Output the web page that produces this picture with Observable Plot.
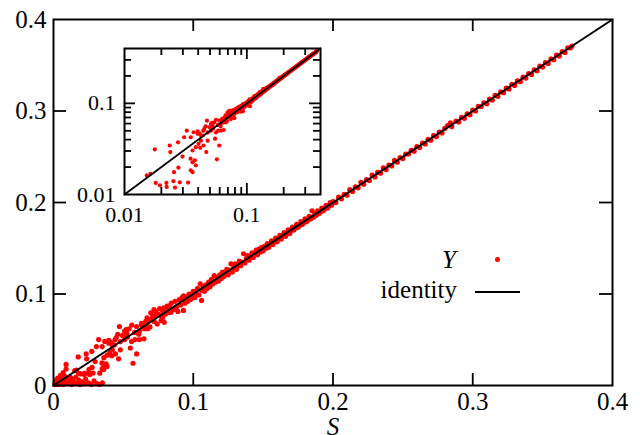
<!DOCTYPE html>
<html><head><meta charset="utf-8">
<script src="https://cdn.jsdelivr.net/npm/d3@7"></script>
<script src="https://cdn.jsdelivr.net/npm/@observablehq/plot@0.6"></script>
<style>
body{margin:0;background:#fff;}
#wrap{position:relative;width:640px;height:435px;overflow:hidden;font-family:"Liberation Serif","DejaVu Serif","Noto Serif","Tinos","Nimbus Roman","FreeSerif",Times,serif;background:#fff;}
#wrap svg{position:absolute;}
#wrap svg text{font-family:"Liberation Serif","DejaVu Serif","Noto Serif","Tinos","Nimbus Roman","FreeSerif",Times,serif;}
g[aria-label="x-axis label"] text{font-style:italic;}
.leg{position:absolute;font-size:25px;line-height:25px;color:#000;white-space:nowrap;}
</style></head><body><div id="wrap"></div>
<script>
// ---- data ----
const lowPoints = [
[0.001,0.001],[0.002,0.003],[0.003,0.001],[0.004,0.005],[0.005,0.002],[0.006,0.004],[0.007,0.001],[0.008,0.006],[0.009,0.003],[0.010,0.008],[0.011,0.002],[0.012,0.005],[0.013,0.001],[0.014,0.007],[0.015,0.003],[0.016,0.009],[0.017,0.002],[0.018,0.006],[0.019,0.001],[0.020,0.004],[0.022,0.002],[0.023,0.007],[0.025,0.003],[0.027,0.001],[0.029,0.005],[0.031,0.002],[0.033,0.001],[0.035,0.003],
[0.003,0.008],[0.005,0.011],[0.007,0.014],[0.008,0.010],[0.009,0.018],[0.009,0.023],[0.006,0.007],[0.002,0.006],[0.004,0.0015],[0.012,0.009],
[0.0152,0.0162],[0.0163,0.0169],[0.0177,0.0312],[0.018,0.0134],[0.0195,0.0126],[0.022,0.0134],[0.0221,0.0121],[0.0234,0.0345],[0.0237,0.0292],[0.0251,0.0140],[0.0254,0.0176],[0.0259,0.0119],[0.0274,0.0374],[0.0276,0.0197],[0.0283,0.0136],[0.0298,0.0261],[0.0307,0.0425],[0.0323,0.0502],[0.0331,0.0135],[0.0347,0.0247],[0.0348,0.0184],[0.0348,0.0425],[0.036,0.0176],[0.036,0.0226],[0.036,0.0304],[0.0367,0.0482],[0.0376,0.0237],[0.0383,0.0209],[0.0383,0.0331],[0.0396,0.0494],[0.0396,0.0463],[0.0403,0.0360],[0.0416,0.0325],[0.0421,0.0390],[0.0421,0.0443],[0.0435,0.0443],[0.0443,0.0345],[0.0449,0.0524],[0.0466,0.0292],[0.0472,0.0645],[0.0478,0.0390],[0.0478,0.0480],[0.0494,0.0547],[0.0509,0.0502],[0.0509,0.0594],[0.0525,0.0570],[0.0541,0.0620],[0.0559,0.0480],[0.0569,0.0243],[0.0583,0.0502],[0.0595,0.0345],[0.0595,0.0645],[0.0615,0.0594],[0.0615,0.0502],[0.0630,0.0660],[0.0647,0.0510],[0.0660,0.0700],[0.0675,0.0620],[0.0675,0.0700],[0.0696,0.0795],[0.0700,0.0720],[0.0719,0.0830],[0.0730,0.0760],[0.0742,0.0672],[0.0750,0.0780],[0.0767,0.0763],[0.0780,0.0820],[0.0792,0.0690],[0.0800,0.0780],[0.0813,0.0868],[0.0825,0.0800],[0.0843,0.0900],
[0.052,0.061],[0.056,0.066],[0.058,0.058],[0.063,0.068],[0.065,0.062],[0.067,0.074],[0.071,0.076],[0.072,0.070],[0.076,0.084],[0.078,0.074],[0.081,0.083],[0.083,0.087],[0.084,0.080],[0.044,0.050],[0.046,0.056],[0.041,0.047],[0.053,0.053],[0.055,0.041],[0.061,0.056],[0.066,0.066],[0.069,0.064],[0.073,0.081],[0.077,0.071],[0.079,0.085]
];
const midPoints = [
[0.086,0.083],[0.087,0.092],[0.088,0.086],[0.089,0.081],[0.090,0.094],[0.091,0.088],[0.092,0.096],[0.093,0.082],[0.093,0.098],[0.094,0.090],[0.095,0.097],[0.096,0.092],[0.097,0.100],[0.098,0.094],[0.099,0.097],[0.100,0.103],[0.101,0.096],[0.102,0.101],[0.103,0.106],[0.104,0.099],[0.105,0.111],[0.106,0.093],[0.106,0.104],[0.107,0.108],[0.108,0.103],[0.109,0.110],[0.110,0.106],[0.111,0.113],[0.112,0.108],[0.113,0.116],[0.114,0.111],[0.115,0.120],[0.116,0.113],[0.117,0.118],[0.118,0.114],[0.119,0.121],[0.120,0.117],[0.121,0.124],[0.122,0.119],[0.123,0.123],[0.124,0.127],[0.125,0.121],[0.126,0.126],[0.127,0.133],[0.128,0.124],[0.129,0.129],[0.130,0.133],[0.131,0.127],[0.132,0.131],[0.133,0.136],[0.134,0.131],[0.135,0.135],[0.136,0.144],[0.137,0.134],[0.138,0.139],[0.139,0.142],[0.140,0.137],[0.141,0.141],[0.142,0.145],[0.143,0.140],[0.144,0.144],[0.145,0.148],[0.146,0.143],[0.147,0.149],[0.148,0.146],[0.149,0.151],[0.150,0.147],[0.151,0.152],[0.152,0.150],[0.153,0.155],[0.154,0.151],[0.155,0.154],[0.156,0.158],[0.157,0.154],[0.158,0.157],[0.159,0.161],[0.160,0.157],[0.161,0.160],[0.162,0.164],[0.163,0.160],[0.164,0.163],[0.165,0.167],[0.166,0.163],[0.167,0.166],[0.168,0.170],[0.169,0.166],[0.170,0.169],[0.171,0.173],[0.172,0.170],[0.173,0.172],[0.174,0.176],[0.175,0.173],[0.176,0.175],[0.177,0.179],[0.178,0.176],[0.179,0.178],[0.180,0.182],[0.181,0.179],[0.182,0.181],[0.183,0.185],[0.184,0.182],[0.185,0.191],[0.186,0.184],[0.187,0.188],[0.188,0.186],[0.189,0.191],[0.190,0.188],[0.191,0.190],[0.192,0.194],[0.193,0.191],[0.194,0.193],[0.195,0.197],[0.196,0.194],[0.197,0.196],[0.198,0.200],[0.199,0.197]
];
const highPoints = [
[0.200,0.201],[0.202,0.200],[0.204,0.206],[0.206,0.204],[0.208,0.209],[0.210,0.208],[0.212,0.214],[0.214,0.212],[0.216,0.217],[0.218,0.216],[0.220,0.222],[0.222,0.220],[0.224,0.225],[0.226,0.224],[0.228,0.230],[0.230,0.228],[0.232,0.233],[0.234,0.232],[0.236,0.238],[0.238,0.236],[0.240,0.241],[0.242,0.240],[0.244,0.246],[0.246,0.244],[0.248,0.249],[0.250,0.248],[0.252,0.253],[0.254,0.253],[0.256,0.257],[0.258,0.256],[0.260,0.261],[0.262,0.260],[0.264,0.265],[0.266,0.264],[0.268,0.269],[0.270,0.268],[0.272,0.273],[0.274,0.272],[0.276,0.277],[0.278,0.276],[0.280,0.281],[0.282,0.284],[0.284,0.287],[0.285,0.283],[0.288,0.289],[0.290,0.288],[0.292,0.293],[0.294,0.292],[0.296,0.297],[0.298,0.296],[0.300,0.301],[0.302,0.300],[0.304,0.305],[0.306,0.305],[0.308,0.309],[0.310,0.308],[0.312,0.313],[0.314,0.312],[0.316,0.317],[0.318,0.316],[0.320,0.321],[0.322,0.320],[0.324,0.325],[0.326,0.324],[0.328,0.329],[0.330,0.328],[0.332,0.333],[0.334,0.332],[0.336,0.337],[0.338,0.336],[0.340,0.341],[0.342,0.340],[0.344,0.345],[0.346,0.344],[0.348,0.349],[0.350,0.348],[0.352,0.353],[0.354,0.352],[0.356,0.357],[0.358,0.356],[0.360,0.361],[0.362,0.360],[0.364,0.365],[0.366,0.364],[0.368,0.369],[0.370,0.369],[0.371,0.371]
];
const identityMain = [0, 0.4];
const identityInset = [0.01, 0.4];
const mainTickValues = [0, 0.1, 0.2, 0.3, 0.4];
const mainTickLabels = ["0", "0.1", "0.2", "0.3", "0.4"];
const mainInnerTicks = [0.1, 0.2, 0.3];
const insetTickValues = [0.01, 0.1];
const insetTickLabels = ["0.01", "0.1"];
const insetMajorTicks = [0.1];
const insetMinorTicks = [0.02,0.03,0.04,0.05,0.06,0.07,0.08,0.09,0.2,0.3];
const legendLabels = ["Y", "identity"];

// ---- main chart ----
const FONT = '"Liberation Serif", "DejaVu Serif", "Noto Serif", Tinos, "Nimbus Roman", FreeSerif, Times, serif';
const allPoints = lowPoints.concat(midPoints, highPoints);
const W = 640, H = 435, mT = 19, mB = 50, mL = 53, mR = 28;
const innerW = W - mL - mR, innerH = H - mT - mB;
const fmtMain = d => mainTickLabels[mainTickValues.indexOf(d)];
const tickStyle = {stroke: "#000", strokeWidth: 1.8};
const wrap = document.getElementById("wrap");

const main = Plot.plot({
  width: W, height: H, marginTop: mT, marginBottom: mB, marginLeft: mL, marginRight: mR,
  style: {fontFamily: FONT, fontSize: "25px", background: "transparent", overflow: "visible", color: "#000"},
  x: {domain: [0, 0.4]},
  y: {domain: [0, 0.4]},
  marks: [
    Plot.dot(allPoints, {x: d => d[0], y: d => d[1], r: 2.6, fill: "#ff0000"}),
    Plot.line(identityMain.map(v => [v, v]), {x: d => d[0], y: d => d[1], stroke: "#000", strokeWidth: 2}),
    Plot.tickX(mainInnerTicks, {x: d => d, insetTop: innerH - 12, ...tickStyle}),
    Plot.tickX(mainInnerTicks, {x: d => d, insetBottom: innerH - 12, ...tickStyle}),
    Plot.tickY(mainInnerTicks, {y: d => d, insetRight: innerW - 13, ...tickStyle}),
    Plot.tickY(mainInnerTicks, {y: d => d, insetLeft: innerW - 13, ...tickStyle}),
    Plot.axisX(mainTickValues, {tickSize: 0, tickPadding: 7, tickFormat: fmtMain, fontFamily: FONT, label: "S", labelAnchor: "center", labelOffset: 49, labelArrow: "none"}),
    Plot.axisY(mainTickValues, {tickSize: 0, tickPadding: 7, tickFormat: fmtMain, fontFamily: FONT, label: null}),
    Plot.frame({stroke: "#000", strokeWidth: 2})
  ]
});
main.style.left = "0px"; main.style.top = "0px";
wrap.appendChild(main);

// ---- inset (log-log) ----
const iW = 260, iH = 190, imT = 8, imB = 36, imL = 54, imR = 10;
const iInnerW = iW - imL - imR, iInnerH = iH - imT - imB;
const insetPoints = allPoints.filter(d => d[0] >= 0.01 && d[1] >= 0.0095);
const fmtInset = d => insetTickLabels[insetTickValues.indexOf(d)];
const inset = Plot.plot({
  width: iW, height: iH, marginTop: imT, marginBottom: imB, marginLeft: imL, marginRight: imR,
  style: {fontFamily: FONT, fontSize: "22px", background: "transparent", overflow: "visible", color: "#000"},
  x: {type: "log", domain: [0.01, 0.4]},
  y: {type: "log", domain: [0.01, 0.4]},
  marks: [
    Plot.dot(insetPoints, {x: d => d[0], y: d => d[1], r: 2.1, fill: "#ff0000", clip: true}),
    Plot.line(identityInset.map(v => [v, v]), {x: d => d[0], y: d => d[1], stroke: "#000", strokeWidth: 1.8}),
    Plot.tickX(insetMajorTicks, {x: d => d, insetTop: iInnerH - 11, ...tickStyle}),
    Plot.tickX(insetMajorTicks, {x: d => d, insetBottom: iInnerH - 11, ...tickStyle}),
    Plot.tickY(insetMajorTicks, {y: d => d, insetRight: iInnerW - 11, ...tickStyle}),
    Plot.tickY(insetMajorTicks, {y: d => d, insetLeft: iInnerW - 11, ...tickStyle}),
    Plot.tickX(insetMinorTicks, {x: d => d, insetTop: iInnerH - 7, ...tickStyle}),
    Plot.tickX(insetMinorTicks, {x: d => d, insetBottom: iInnerH - 7, ...tickStyle}),
    Plot.tickY(insetMinorTicks, {y: d => d, insetRight: iInnerW - 7, ...tickStyle}),
    Plot.tickY(insetMinorTicks, {y: d => d, insetLeft: iInnerW - 7, ...tickStyle}),
    Plot.axisX(insetTickValues, {tickSize: 0, tickPadding: 12, tickFormat: fmtInset, fontFamily: FONT, label: null}),
    Plot.axisY(insetTickValues, {tickSize: 0, tickPadding: 9, tickFormat: fmtInset, fontFamily: FONT, label: null}),
    Plot.frame({stroke: "#000", strokeWidth: 2})
  ]
});
inset.style.left = "70px"; inset.style.top = "40px";
wrap.appendChild(inset);

// ---- legend ----
const l1 = document.createElement("div");
l1.className = "leg"; l1.textContent = legendLabels[0];
l1.style.fontStyle = "italic"; l1.style.right = (640 - 456) + "px"; l1.style.top = "247px";
wrap.appendChild(l1);
const d1 = document.createElement("div");
d1.style.cssText = "position:absolute;left:495px;top:257px;width:4.6px;height:4.6px;border-radius:50%;background:#ff0000;";
wrap.appendChild(d1);
const l2 = document.createElement("div");
l2.className = "leg"; l2.textContent = legendLabels[1];
l2.style.right = (640 - 457) + "px"; l2.style.top = "277px";
wrap.appendChild(l2);
const d2 = document.createElement("div");
d2.style.cssText = "position:absolute;left:475px;top:291px;width:45px;height:2px;background:#000;";
wrap.appendChild(d2);
</script></body></html>
